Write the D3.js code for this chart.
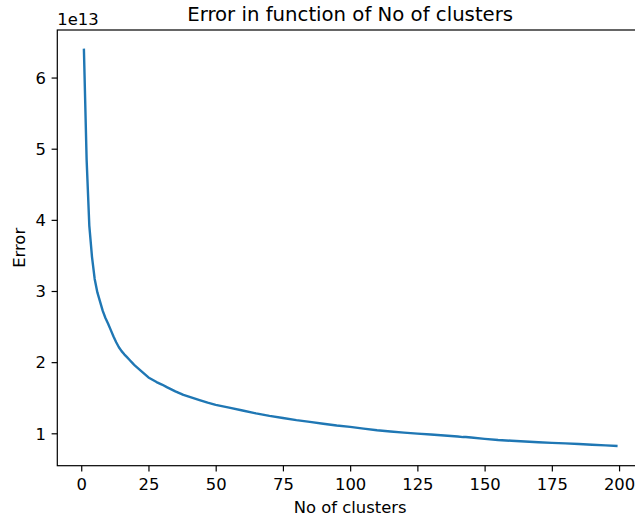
<!DOCTYPE html>
<html>
<head>
<meta charset="utf-8">
<script src="https://cdn.jsdelivr.net/npm/d3@7"></script>
<style>
  html, body { margin: 0; padding: 0; background: #fff; }
  svg { display: block; font-family: "DejaVu Sans", sans-serif; }
</style>
</head>
<body>
<svg id="chart" width="635" height="519"></svg>
<script>
// ---- data (error in units of 1e13) ----
const clusterCounts = [1,2,3,4,5,6,7,8,9,10,11,12,13,14,15,16,17,18,19,20,22,25,28,30,32,35,38,40,44,47,50,55,60,65,70,75,80,85,90,95,100,105,110,115,120,125,130,135,140,142,143,145,150,155,160,165,170,175,180,185,190,195,199];
const errorValues = [6.39,4.85,3.92,3.48,3.17,2.98,2.85,2.72,2.62,2.54,2.45,2.36,2.28,2.21,2.155,2.11,2.07,2.03,1.99,1.95,1.885,1.785,1.72,1.685,1.645,1.59,1.54,1.515,1.465,1.43,1.40,1.36,1.32,1.28,1.245,1.215,1.185,1.16,1.135,1.11,1.09,1.065,1.042,1.025,1.01,0.995,0.983,0.97,0.955,0.947,0.948,0.941,0.922,0.906,0.895,0.885,0.875,0.866,0.858,0.849,0.84,0.831,0.823];
const xTicks = [0,25,50,75,100,125,150,175,200];
const yTicks = [1,2,3,4,5,6];
const offsetLabel = "1e13";
const titleText = "Error in function of No of clusters";
const xLabelText = "No of clusters";
const yLabelText = "Error";

(function () {
const data = clusterCounts.map((k, i) => ({k, v: errorValues[i]}));

// ---- layout ----
const mLeft = 57.3, mRight = 643, mTop = 30, mBottom = 465.7;
const svg = d3.select("#chart");

function padded(ext) { const m = (ext[1] - ext[0]) * 0.05; return [ext[0] - m, ext[1] + m]; }
const x = d3.scaleLinear().domain(padded(d3.extent(clusterCounts))).range([mLeft, mRight]);
const y = d3.scaleLinear().domain(padded(d3.extent(errorValues))).range([mBottom, mTop]);

const tickLen = 5.7, tickPad = 5.7, fs = 16.4;

// line
const line = d3.line().x(d => x(d.k)).y(d => y(d.v));
svg.append("path").datum(data)
  .attr("d", line)
  .attr("fill", "none")
  .attr("stroke", "#1f77b4")
  .attr("stroke-width", 2.4)
  .attr("stroke-linejoin", "round")
  .attr("stroke-linecap", "square");

// axes
const xAxis = d3.axisBottom(x).tickValues(xTicks).tickFormat(d3.format("d")).tickSize(tickLen).tickPadding(tickPad).tickSizeOuter(0);
const yAxis = d3.axisLeft(y).tickValues(yTicks).tickFormat(d3.format("d")).tickSize(tickLen).tickPadding(tickPad).tickSizeOuter(0);

const gx = svg.append("g").attr("transform", `translate(0,${mBottom})`).call(xAxis);
const gy = svg.append("g").attr("transform", `translate(${mLeft},0)`).call(yAxis);
[gx, gy].forEach(g => {
  g.select(".domain").remove();
  g.selectAll(".tick line").attr("stroke", "#000").attr("stroke-width", 1.2);
  g.selectAll(".tick text").attr("fill", "#000").style("font-size", fs + "px").style("font-family", "DejaVu Sans");
});
gx.selectAll(".tick text").attr("dy", null).attr("y", 24.3);
gy.selectAll(".tick text").attr("dy", "0.35em");

// spines
svg.append("rect")
  .attr("x", mLeft).attr("y", mTop)
  .attr("width", mRight - mLeft).attr("height", mBottom - mTop)
  .attr("fill", "none").attr("stroke", "#000").attr("stroke-width", 1.2);

// texts
svg.append("text").attr("x", (mLeft + mRight) / 2).attr("y", 20.5)
  .attr("text-anchor", "middle").style("font-size", "19.7px").text(titleText);
svg.append("text").attr("x", mLeft).attr("y", 25)
  .style("font-size", fs + "px").text(offsetLabel);
svg.append("text").attr("x", (mLeft + mRight) / 2).attr("y", 513)
  .attr("text-anchor", "middle").style("font-size", fs + "px").text(xLabelText);
svg.append("text")
  .attr("transform", `translate(25,${(mTop + mBottom) / 2}) rotate(-90)`)
  .attr("text-anchor", "middle").style("font-size", fs + "px").text(yLabelText);
})();
</script>
</body>
</html>
